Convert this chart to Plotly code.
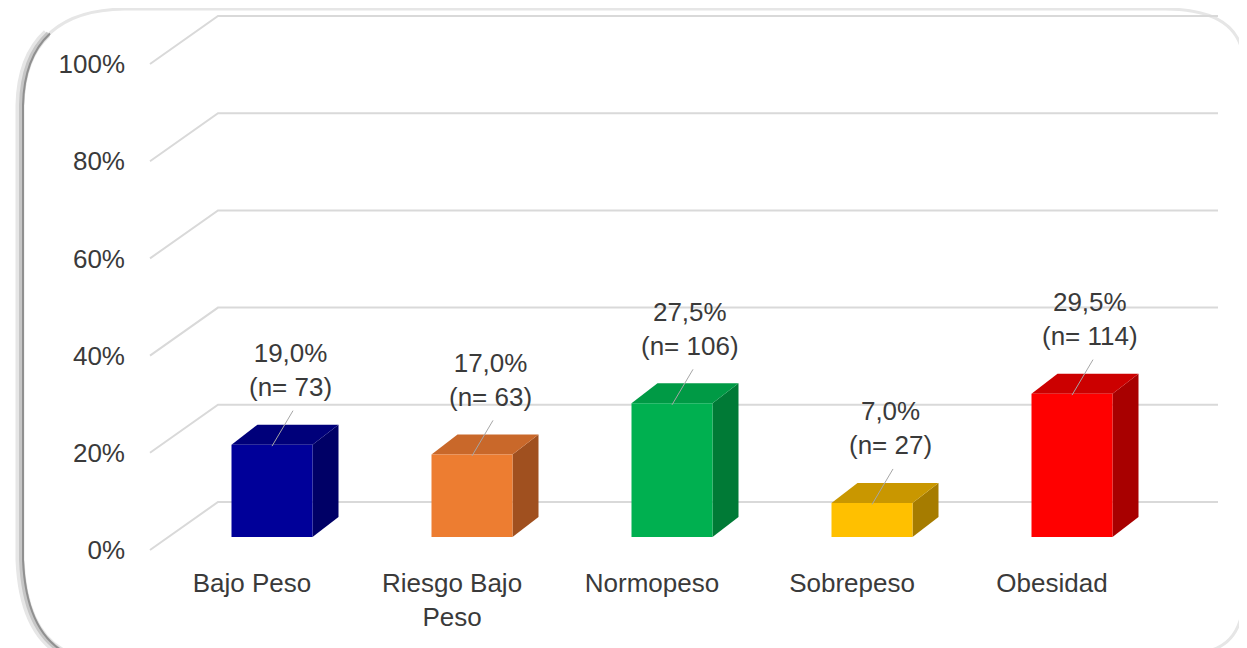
import plotly.graph_objects as go

# ---------------- data ----------------
categories = ["Bajo Peso", "Riesgo Bajo<br>Peso", "Normopeso", "Sobrepeso", "Obesidad"]
percentages = [19.0, 17.0, 27.5, 7.0, 29.5]
counts = [73, 63, 106, 27, 114]
front_colors = ["#000099", "#ED7D31", "#00B050", "#FFC000", "#FF0000"]
top_colors = ["#00007A", "#C9682A", "#009A45", "#C99700", "#CC0000"]
side_colors = ["#000066", "#A0501F", "#007A36", "#A67C00", "#A80000"]
y_ticks = [0, 20, 40, 60, 80, 100]
y_ticklabels = ["0%", "20%", "40%", "60%", "80%", "100%"]

W, H = 1247, 648
OFF = 8  # default page body margin in the browser
FONT = "Arial, 'Liberation Sans', sans-serif"
TXT = "#3a3a3a"
FS = 26

# perspective parameters (data units)
wall_dx, wall_dy = 0.34, 9.88       # depth of back wall
grid_x0, grid_x1 = -0.51, 4.83      # grid extent
bar_off_x, bar_off_y = 0.10, 2.67   # bar front-face offset into depth
bar_w = 0.405
bar_dx, bar_dy = 0.13, 4.12         # bar depth

# axis mapping (screen px -> figure px)
x0_px = 252 - OFF   # category 0 position
x_scale = 200.0
y0_px = 550 - OFF   # 0% position
y_scale = 4.86

fig = go.Figure()

# perspective gridlines
for v in y_ticks:
    fig.add_trace(go.Scatter(
        x=[grid_x0, grid_x0 + wall_dx, grid_x1],
        y=[v, v + wall_dy, v + wall_dy],
        mode="lines", line=dict(color="#d9d9d9", width=2),
        hoverinfo="skip", showlegend=False))

# 3D bars
for i, (v, fc, tc, sc) in enumerate(zip(percentages, front_colors, top_colors, side_colors)):
    cx = i + bar_off_x
    x0, x1 = cx - bar_w / 2, cx + bar_w / 2
    y0, y1 = bar_off_y, bar_off_y + v
    fig.add_trace(go.Scatter(
        x=[x1, x1 + bar_dx, x1 + bar_dx, x1, x1],
        y=[y0, y0 + bar_dy, y1 + bar_dy, y1, y0],
        fill="toself", fillcolor=sc, mode="lines", line=dict(width=0, color=sc),
        hoverinfo="skip", showlegend=False))
    fig.add_trace(go.Scatter(
        x=[x0, x1, x1 + bar_dx, x0 + bar_dx, x0],
        y=[y1, y1, y1 + bar_dy, y1 + bar_dy, y1],
        fill="toself", fillcolor=tc, mode="lines", line=dict(width=0, color=tc),
        hoverinfo="skip", showlegend=False))
    fig.add_trace(go.Scatter(
        x=[x0, x1, x1, x0, x0],
        y=[y0, y0, y1, y1, y0],
        fill="toself", fillcolor=fc, mode="lines", line=dict(width=0, color=fc),
        hoverinfo="skip", showlegend=False))
    fig.add_trace(go.Scatter(
        x=[cx, cx + 0.105], y=[y1 - 0.3, y1 + 7.0],
        mode="lines", line=dict(color="#a6a6a6", width=1),
        hoverinfo="skip", showlegend=False))

# data labels
for i, (v, n) in enumerate(zip(percentages, counts)):
    label = f"{v:.1f}".replace(".", ",") + f"%<br>(n= {n})"
    fig.add_annotation(
        x=i + bar_off_x + 0.09, y=bar_off_y + v + 8.4,
        xref="x", yref="y", text=label, showarrow=False,
        yanchor="bottom", xanchor="center", align="center",
        font=dict(family=FONT, size=FS, color=TXT))

# frame (decorative rounded border with shadow), coordinates in screen px
def px(xp, yp):
    return f"{(xp - OFF) / W:.5f},{1 - (yp - OFF) / H:.5f}"

frame_light = ("M " + px(23, 105) + " Q " + px(25, 10) + " " + px(125, 9) +
               " L " + px(1165, 9) + " Q " + px(1243, 9) + " " + px(1244, 65) +
               " L " + px(1244, 595) + " Q " + px(1243, 640) + " " + px(1212, 650))
fig.add_shape(type="path", path=frame_light, xref="paper", yref="paper",
              line=dict(color="#e6e6e6", width=3), layer="below")
fig.add_shape(type="path", path="M " + px(125, 4) + " L " + px(1165, 4),
              xref="paper", yref="paper", line=dict(color="#f2f2f2", width=2), layer="below")
for w, col, dx in [(9, "#e6e6e6", -3), (5, "#c6c6c6", -1.5), (2, "#909090", 0)]:
    shadow = ("M " + px(50 + dx, 33.5) + " Q " + px(24 + dx, 57.5) + " " + px(23 + dx, 105) +
              " L " + px(23 + dx, 560) +
              " Q " + px(26 + dx, 630) + " " + px(64 + dx, 652))
    fig.add_shape(type="path", path=shadow, xref="paper", yref="paper",
                  line=dict(color=col, width=w), layer="below")

fig.update_layout(
    width=W, height=H, autosize=False,
    margin=dict(l=0, r=0, t=0, b=0),
    paper_bgcolor="white", plot_bgcolor="rgba(0,0,0,0)",
    showlegend=False,
    xaxis=dict(
        range=[-x0_px / x_scale, (W - x0_px) / x_scale], showgrid=False, zeroline=False,
        showline=False, tickmode="array", tickvals=list(range(len(categories))),
        ticktext=categories, ticks="", anchor="free", position=1 - (565 - OFF) / H,
        tickfont=dict(family=FONT, size=FS, color=TXT), fixedrange=True),
    yaxis=dict(
        range=[-(H - y0_px) / y_scale, y0_px / y_scale], showgrid=False, zeroline=False,
        showline=False, tickmode="array", tickvals=y_ticks, ticktext=y_ticklabels,
        ticks="", anchor="free", position=(125 - OFF) / W,
        tickfont=dict(family=FONT, size=FS, color=TXT), fixedrange=True),
)

fig.write_html("out.html")
